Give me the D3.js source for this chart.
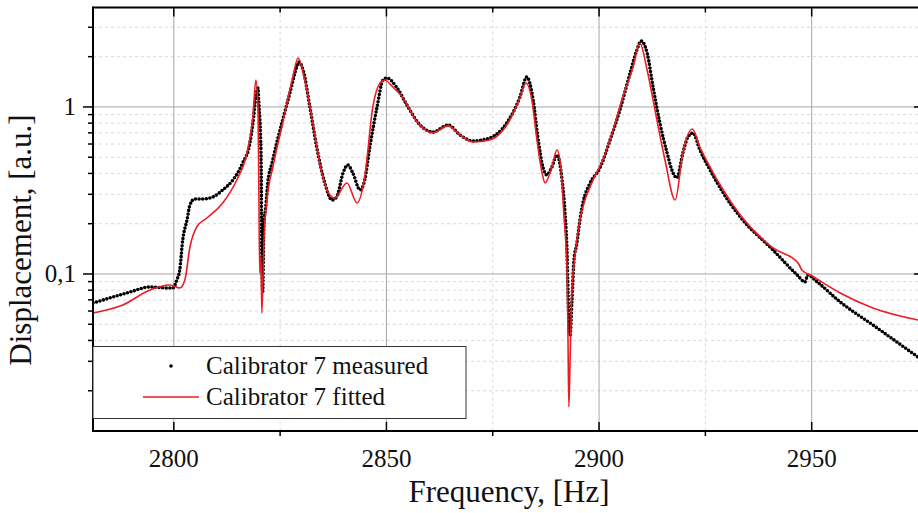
<!DOCTYPE html>
<html>
<head>
<meta charset="utf-8">
<script src="https://cdn.jsdelivr.net/npm/d3@7"></script>
<style>
  body { margin: 0; background: #fff; }
  text { font-family: "Liberation Serif", "Times New Roman", serif; fill: #111; }
</style>
</head>
<body>
<svg id="chart" width="918" height="513"></svg>
<script>
// measured points (Hz, a.u.)
const freqMeasured = [2781, 2784.9, 2789.7, 2794.4, 2798.4, 2799.8, 2800.7, 2801.4, 2802.1, 2803.1,
  2803.8, 2804.9, 2806.8, 2809.2, 2811.5, 2813.9, 2816.2, 2817.9, 2818.6, 2819.3,
  2819.8, 2820.0, 2820.5, 2820.7, 2820.9, 2821.2, 2821.6, 2822.1, 2823.1, 2824.2,
  2825.6, 2827.3, 2828.9, 2829.4, 2830.4, 2832.0, 2833.6, 2835.5, 2837.2, 2838.3,
  2839.8, 2840.9, 2842.1, 2843.8, 2844.9, 2846.1, 2847.8, 2849.2, 2850.1, 2852.5,
  2854.8, 2857.9, 2860.9, 2864.5, 2867.3, 2870.3, 2874.3, 2878.3, 2881.4, 2883.0,
  2884.5, 2885.6, 2886.8, 2887.7, 2888.9, 2890.1, 2891.3, 2892.0, 2892.5, 2892.7,
  2892.9, 2893.2, 2893.6, 2894.1, 2894.8, 2895.5, 2896.2, 2897.9, 2900.2, 2902.6,
  2904.9, 2907.3, 2908.9, 2909.9, 2911.3, 2912.7, 2914.3, 2916.0, 2917.4, 2918.3,
  2919.7, 2920.9, 2922.1, 2923.7, 2926.1, 2929.2, 2933.2, 2940.9, 2946.6, 2948.4,
  2949.1, 2951.3, 2956.7, 2964.4, 2975];
const ampMeasured = [0.067, 0.0718, 0.078, 0.0836, 0.0825, 0.0825, 0.092, 0.1057, 0.1598, 0.2105,
  0.2589, 0.2812, 0.2812, 0.2891, 0.3184, 0.3655, 0.4621, 0.6087, 0.802, 1.148,
  1.299, 1.057, 0.53, 0.1247, 0.078, 0.202, 0.2484, 0.3506, 0.4621, 0.6087,
  0.836, 1.213, 1.736, 1.86, 1.665, 1.0, 0.576, 0.3506, 0.2773, 0.2891,
  0.4025, 0.4495, 0.4025, 0.3184, 0.3655, 0.576, 1.0, 1.451, 1.492, 1.299,
  1.028, 0.78, 0.708, 0.78, 0.68, 0.626, 0.652, 0.802, 1.148, 1.512,
  1.101, 0.661, 0.437, 0.3916, 0.437, 0.516, 0.3655, 0.2319, 0.1264, 0.077,
  0.0509, 0.0431, 0.067, 0.1213, 0.1533, 0.2105, 0.266, 0.3506, 0.431, 0.635,
  0.959, 1.598, 2.194, 2.484, 2.105, 1.317, 0.802, 0.53, 0.4025, 0.3757,
  0.53, 0.661, 0.699, 0.553, 0.4195, 0.3055, 0.2195, 0.1392, 0.0986, 0.0896,
  0.0986, 0.0896, 0.068, 0.0495, 0.0318];

// fitted curve
const freqFitted = [2781, 2788.0, 2794.4, 2799.1, 2801.4, 2802.6, 2803.8, 2805.4, 2807.8, 2811.5,
  2814.8, 2817.2, 2818.6, 2819.3, 2819.8, 2820.0, 2820.2, 2820.5, 2820.7, 2821.2,
  2821.9, 2823.3, 2825.6, 2828.0, 2829.2, 2830.8, 2832.7, 2834.8, 2836.7, 2837.9,
  2840.7, 2843.1, 2844.9, 2846.8, 2848.5, 2849.6, 2851.5, 2853.9, 2857.2, 2860.9,
  2864.5, 2867.3, 2870.3, 2874.3, 2878.3, 2881.4, 2882.8, 2884.2, 2885.4, 2886.6,
  2887.3, 2888.9, 2890.1, 2891.0, 2891.7, 2892.5, 2892.7, 2892.9, 2893.2, 2893.6,
  2894.3, 2895.5, 2896.2, 2898.6, 2900.9, 2903.3, 2905.6, 2908.0, 2909.6, 2911.3,
  2913.6, 2915.5, 2917.9, 2919.7, 2921.9, 2923.7, 2926.1, 2929.2, 2933.2, 2940.9,
  2946.8, 2947.7, 2950.1, 2956.7, 2964.4, 2975];
const ampFitted = [0.0584, 0.0652, 0.0802, 0.0859, 0.0825, 0.092, 0.1451, 0.1912, 0.2164, 0.266,
  0.3655, 0.53, 0.871, 1.451, 1.0, 0.3184, 0.1014, 0.1264, 0.0584, 0.1598,
  0.2773, 0.437, 0.802, 1.512, 1.965, 1.451, 0.802, 0.4025, 0.2972, 0.2851,
  0.3506, 0.266, 0.381, 1.0, 1.392, 1.451, 1.317, 1.132, 0.813, 0.699,
  0.77, 0.68, 0.617, 0.635, 0.78, 1.132, 1.392, 1.101, 0.635, 0.4025,
  0.3506, 0.437, 0.553, 0.437, 0.2319, 0.1014, 0.0403, 0.016, 0.0318, 0.077,
  0.1264, 0.2105, 0.252, 0.3655, 0.4815, 0.728, 1.148, 1.736, 2.417, 1.665,
  0.836, 0.4815, 0.2773, 0.53, 0.738, 0.576, 0.437, 0.3184, 0.2256, 0.1431,
  0.1164, 0.1057, 0.0973, 0.077, 0.0626, 0.053];

const xMajor = [2800, 2850, 2900, 2950];
const xMinor = [2825, 2875, 2925];
const yMajor = [0.1, 1];
const yMinor = [0.02, 0.03, 0.04, 0.05, 0.06, 0.07, 0.08, 0.09,
  0.2, 0.3, 0.4, 0.5, 0.6, 0.7, 0.8, 0.9, 2, 3];
const yLabels = {0.1: "0,1", 1: "1"};
const legendNames = ["Calibrator 7 measured", "Calibrator 7 fitted"];

const plotL = 93, plotR = 918, plotT = 7.5, plotB = 431;

const svg = d3.select("#chart");
const x = d3.scaleLinear().domain([2781, 2975]).range([plotL, plotR]);
const y = d3.scaleLog().domain([0.01148, 3.94]).range([plotB, plotT]);

svg.append("defs").append("clipPath").attr("id", "plotclip")
  .append("rect").attr("x", plotL).attr("y", plotT).attr("width", plotR - plotL).attr("height", plotB - plotT);

// grid
const grid = svg.append("g");
grid.selectAll("line.xmin").data(xMinor).join("line")
  .attr("x1", d => x(d)).attr("x2", d => x(d)).attr("y1", plotT).attr("y2", plotB)
  .attr("stroke", "#d9d9d9").attr("stroke-dasharray", "3,3");
grid.selectAll("line.ymin").data(yMinor).join("line")
  .attr("x1", plotL).attr("x2", plotR).attr("y1", d => y(d)).attr("y2", d => y(d))
  .attr("stroke", "#d9d9d9").attr("stroke-dasharray", "3,3");
grid.selectAll("line.xmaj").data(xMajor).join("line")
  .attr("x1", d => x(d)).attr("x2", d => x(d)).attr("y1", plotT).attr("y2", plotB)
  .attr("stroke", "#a6a6a6");
grid.selectAll("line.ymaj").data(yMajor).join("line")
  .attr("x1", plotL).attr("x2", plotR).attr("y1", d => y(d)).attr("y2", d => y(d))
  .attr("stroke", "#a6a6a6");

// curves
const plot = svg.append("g").attr("clip-path", "url(#plotclip)");
const line = d3.line().x(d => x(d[0])).y(d => y(d[1])).curve(d3.curveMonotoneX);

// measured series drawn as a run of round dots along the path
plot.append("path")
  .datum(d3.zip(freqMeasured, ampMeasured))
  .attr("d", line)
  .attr("fill", "none").attr("stroke", "#000").attr("stroke-width", 3.6)
  .attr("stroke-linecap", "round").attr("stroke-dasharray", "0 3.6");

plot.append("path")
  .datum(d3.zip(freqFitted, ampFitted))
  .attr("d", line)
  .attr("fill", "none").attr("stroke", "#ec1c24").attr("stroke-width", 1.6);

// axes
const ax = svg.append("g").attr("stroke", "#000");
ax.append("line").attr("x1", plotL).attr("x2", plotR).attr("y1", plotT).attr("y2", plotT).attr("stroke-width", 2);
ax.append("line").attr("x1", plotL).attr("x2", plotR).attr("y1", plotB).attr("y2", plotB).attr("stroke-width", 2);
ax.append("line").attr("x1", plotL).attr("x2", plotL).attr("y1", plotT - 1).attr("y2", plotB + 1).attr("stroke-width", 2);

// top ticks point inward
ax.selectAll("line.tt").data(xMajor.concat(xMinor)).join("line")
  .attr("x1", d => x(d)).attr("x2", d => x(d)).attr("y1", plotT)
  .attr("y2", d => xMajor.includes(d) ? plotT + 9 : plotT + 5).attr("stroke-width", 1.5);
// bottom ticks
ax.selectAll("line.bt").data(xMajor.concat(xMinor)).join("line")
  .attr("x1", d => x(d)).attr("x2", d => x(d)).attr("y1", plotB)
  .attr("y2", d => xMajor.includes(d) ? plotB - 9 : plotB + 5).attr("stroke-width", 1.5);
// left ticks point outward
ax.selectAll("line.lt").data(yMajor.concat(yMinor)).join("line")
  .attr("x1", plotL).attr("x2", d => yMajor.includes(d) ? plotL - 10 : plotL - 5)
  .attr("y1", d => y(d)).attr("y2", d => y(d)).attr("stroke-width", 1.5);
// right ticks (frame edge is cut by the page)
ax.selectAll("line.rt").data(yMajor).join("line")
  .attr("x1", plotR).attr("x2", plotR - 4)
  .attr("y1", d => y(d)).attr("y2", d => y(d)).attr("stroke-width", 1.5);

svg.append("g").selectAll("text").data(xMajor).join("text")
  .attr("x", d => x(d)).attr("y", 467).attr("text-anchor", "middle")
  .attr("font-size", 25).text(d => d);

svg.append("g").selectAll("text").data(yMajor).join("text")
  .attr("x", 76).attr("y", d => y(d)).attr("dy", "0.33em").attr("text-anchor", "end")
  .attr("font-size", 25).text(d => yLabels[d]);

svg.append("text").attr("x", 509).attr("y", 502).attr("text-anchor", "middle")
  .attr("font-size", 31).text("Frequency, [Hz]");
svg.append("text").attr("transform", "translate(31,240) rotate(-90)").attr("text-anchor", "middle")
  .attr("font-size", 31).text("Displacement, [a.u.]");

// legend
const lg = svg.append("g");
lg.append("rect").attr("x", plotL).attr("y", 346.5).attr("width", 373).attr("height", 72)
  .attr("fill", "#fff").attr("stroke", "#333").attr("stroke-width", 1);
lg.append("circle").attr("cx", 171).attr("cy", 366).attr("r", 1.8).attr("fill", "#000");
lg.append("line").attr("x1", 143).attr("x2", 199).attr("y1", 397).attr("y2", 397)
  .attr("stroke", "#ec1c24").attr("stroke-width", 1.6);
lg.selectAll("text").data(legendNames).join("text")
  .attr("x", 206).attr("y", (d, i) => 374 + i * 31).attr("font-size", 25).text(d => d);
</script>
</body>
</html>
